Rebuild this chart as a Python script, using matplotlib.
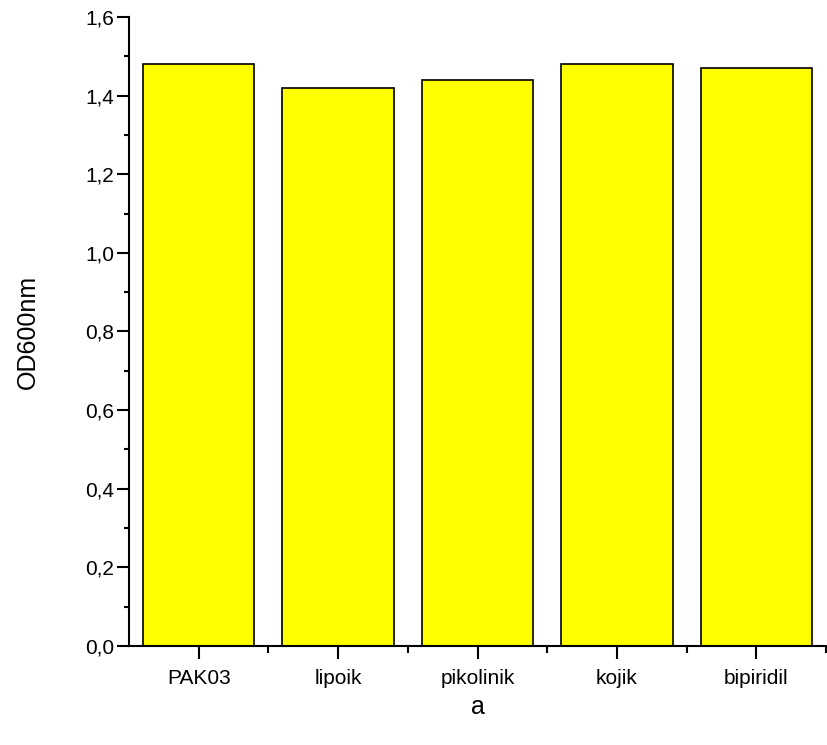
import numpy as np
import matplotlib.pyplot as plt
from matplotlib.ticker import MultipleLocator, FixedLocator, FuncFormatter

plt.rcParams['font.family'] = ['Liberation Sans', 'DejaVu Sans']

# Daten
categories = ['PAK03', 'lipoik', 'pikolinik', 'kojik', 'bipiridil']
od_values = [1.48, 1.42, 1.44, 1.48, 1.47]

fig = plt.figure(figsize=(8.28, 7.45), dpi=100)
ax = fig.add_axes([0.1558, 0.1329, 0.8418, 0.8443])

x = np.arange(1, len(categories) + 1)
ax.bar(x, od_values, width=0.8, color='#ffff00', edgecolor='black', linewidth=1.2)

ax.set_xlim(0.5, 5.5)
ax.set_ylim(0, 1.6)

ax.spines['top'].set_visible(False)
ax.spines['right'].set_visible(False)
ax.spines['left'].set_linewidth(1.5)
ax.spines['bottom'].set_linewidth(1.5)

ax.set_xticks(x)
ax.set_xticklabels(categories)
ax.xaxis.set_minor_locator(FixedLocator(np.arange(1.5, 5.6, 1.0)))
ax.yaxis.set_major_locator(MultipleLocator(0.2))
ax.yaxis.set_minor_locator(MultipleLocator(0.1))
ax.yaxis.set_major_formatter(FuncFormatter(lambda v, p: f'{v:.1f}'.replace('.', ',')))

ax.tick_params(axis='y', which='major', direction='out', length=9, width=1.5, labelsize=15, pad=1.5)
ax.tick_params(axis='y', which='minor', direction='out', length=3.5, width=1.5)
ax.tick_params(axis='x', which='major', direction='out', length=9.5, width=1.5, labelsize=15, pad=7)
ax.tick_params(axis='x', which='minor', direction='out', length=5, width=1.5)

ax.set_ylabel('OD600nm', fontsize=18, labelpad=33)
ax.set_xlabel('a', fontsize=18, labelpad=5)

plt.savefig('out.png', dpi=100)
